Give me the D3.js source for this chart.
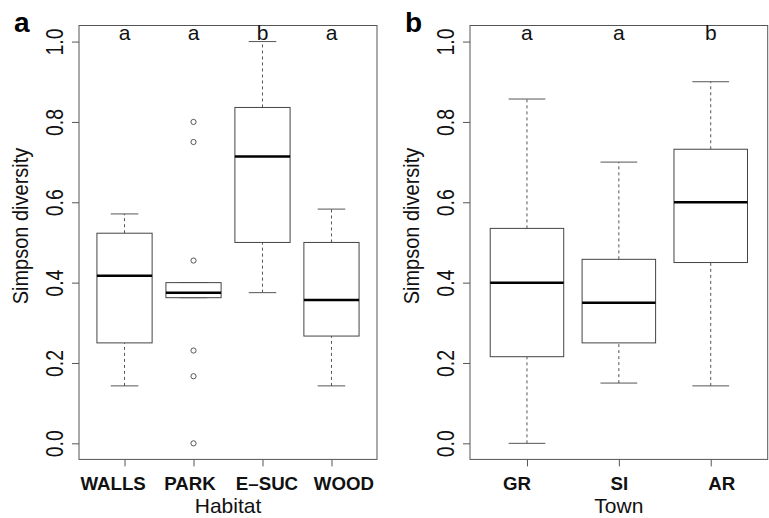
<!DOCTYPE html>
<html>
<head>
<meta charset="utf-8">
<script src="https://cdn.jsdelivr.net/npm/d3@7"></script>
<style>
  body { margin: 0; background: #fff; }
  svg { display: block; font-family: "Liberation Sans", Arial, sans-serif; }
</style>
</head>
<body>
<svg id="chart" width="769" height="518"></svg>
<script>
// box stats: [lower whisker, Q1, median, Q3, upper whisker]
var habitats = ["WALLS", "PARK", "E\u2013SUC", "WOOD"];
var habitatStats = [
  [0.143, 0.25, 0.417, 0.523, 0.571],
  [0.3625, 0.3625, 0.375, 0.40, 0.40],
  [0.375, 0.50, 0.714, 0.836, 1.0],
  [0.143, 0.267, 0.357, 0.50, 0.583]
];
var habitatOutliers = [[], [0.80, 0.75, 0.455, 0.231, 0.167, 0.0], [], []];
var habitatLetters = ["a", "a", "b", "a"];

var towns = ["GR", "SI", "AR"];
var townStats = [
  [0.0, 0.2156, 0.40, 0.535, 0.857],
  [0.15, 0.25, 0.35, 0.458, 0.70],
  [0.143, 0.45, 0.60, 0.732, 0.90]
];
var townOutliers = [[], [], []];
var townLetters = ["a", "a", "b"];

var yTicks = [0, 0.2, 0.4, 0.6, 0.8, 1.0];

var svg = d3.select("#chart");
var top_ = 25.5, bottom = 459.4;

// R style usr: ylim 0..1 extended 4%
var y = d3.scaleLinear().domain([-0.04, 1.04]).range([bottom, top_]);

function panel(opts) {
  var n = opts.cats.length;
  var pad = 0.04 * n;
  var x = d3.scaleLinear()
    .domain([0.5 - pad, n + 0.5 + pad])
    .range([opts.left, opts.right]);
  var mid = (opts.left + opts.right) / 2;
  var g = svg.append("g");
  var bw = 0.8 * (x(1) - x(0));

  // frame
  g.append("rect")
    .attr("x", opts.left).attr("y", top_)
    .attr("width", opts.right - opts.left).attr("height", bottom - top_)
    .attr("fill", "none").attr("stroke", "#555").attr("stroke-width", 1);

  // y axis
  var sy = 1.18, off = 16;
  var ya = g.append("g")
    .attr("transform", "translate(" + opts.left + ",0)")
    .call(d3.axisLeft(y).tickValues(yTicks).tickSize(7).tickFormat(d3.format(".1f")));
  ya.select(".domain").remove();
  ya.selectAll("line").attr("stroke", "#555");
  ya.selectAll("text")
    .attr("transform", "rotate(-90) scale(1," + sy + ")")
    .attr("x", 0).attr("y", -off / sy).attr("dy", 0)
    .attr("text-anchor", "middle")
    .attr("fill", "#111")
    .style("font-size", "19.5px");

  // x axis (labels sit a little wider apart than the ticks in the original)
  var spread = 1.115;
  var xa = g.append("g")
    .attr("transform", "translate(0," + bottom + ")")
    .call(d3.axisBottom(x).tickValues(d3.range(1, n + 1)).tickSize(7).tickFormat(function (d) { return opts.cats[d - 1]; }));
  xa.select(".domain").remove();
  xa.selectAll("line").attr("stroke", "#555");
  xa.selectAll("text")
    .attr("x", function (d) { return (x(d) - mid) * (spread - 1); })
    .attr("y", 31).attr("dy", 0)
    .attr("fill", "#111")
    .style("font-size", "18.7px").style("font-weight", "bold");

  var boxes = g.selectAll(".box").data(opts.stats).join("g").attr("class", "box");
  boxes.each(function (s, i) {
    var b = d3.select(this), cx = x(i + 1);
    // whiskers
    [[s[0], s[1]], [s[3], s[4]]].forEach(function (w) {
      if (w[0] === w[1]) return;
      b.append("line")
        .attr("x1", cx).attr("x2", cx).attr("y1", y(w[0])).attr("y2", y(w[1]))
        .attr("stroke", "#555").attr("stroke-width", 1).attr("stroke-dasharray", "3,3");
    });
    [s[0], s[4]].forEach(function (v) {
      b.append("line")
        .attr("x1", cx - bw / 4).attr("x2", cx + bw / 4).attr("y1", y(v)).attr("y2", y(v))
        .attr("stroke", "#555").attr("stroke-width", 1);
    });
    b.append("rect")
      .attr("x", cx - bw / 2).attr("width", bw)
      .attr("y", y(s[3])).attr("height", y(s[1]) - y(s[3]))
      .attr("fill", "#fff").attr("stroke", "#444").attr("stroke-width", 1);
    b.append("line")
      .attr("x1", cx - bw / 2).attr("x2", cx + bw / 2).attr("y1", y(s[2])).attr("y2", y(s[2]))
      .attr("stroke", "#000").attr("stroke-width", 2.5);
    b.selectAll("circle").data(opts.outliers[i]).join("circle")
      .attr("cx", cx).attr("cy", function (d) { return y(d); }).attr("r", 2.6)
      .attr("fill", "none").attr("stroke", "#555").attr("stroke-width", 1);
  });

  // group letters
  g.selectAll(".lett").data(opts.letters).join("text")
    .attr("x", function (d, i) { return x(i + 1); })
    .attr("y", 39.5)
    .attr("text-anchor", "middle")
    .attr("fill", "#111")
    .style("font-size", "21px")
    .text(function (d) { return d; });

  // axis titles
  g.append("text")
    .attr("x", mid).attr("y", 513)
    .attr("text-anchor", "middle").attr("fill", "#111")
    .style("font-size", "21px")
    .text(opts.xlab);
  g.append("text")
    .attr("transform", "translate(" + (opts.left - 51) + ",226) rotate(-90) scale(1,1.08)")
    .attr("text-anchor", "middle").attr("fill", "#111")
    .style("font-size", "20px")
    .text("Simpson diversity");

  // panel label
  g.append("text")
    .attr("x", opts.left - 65).attr("y", 32)
    .attr("fill", "#000")
    .style("font-size", "28px").style("font-weight", "bold")
    .text(opts.label);
}

panel({ left: 79, right: 377, cats: habitats, stats: habitatStats, outliers: habitatOutliers,
        letters: habitatLetters, xlab: "Habitat", label: "a" });
panel({ left: 470, right: 767.7, cats: towns, stats: townStats, outliers: townOutliers,
        letters: townLetters, xlab: "Town", label: "b" });
</script>
</body>
</html>
